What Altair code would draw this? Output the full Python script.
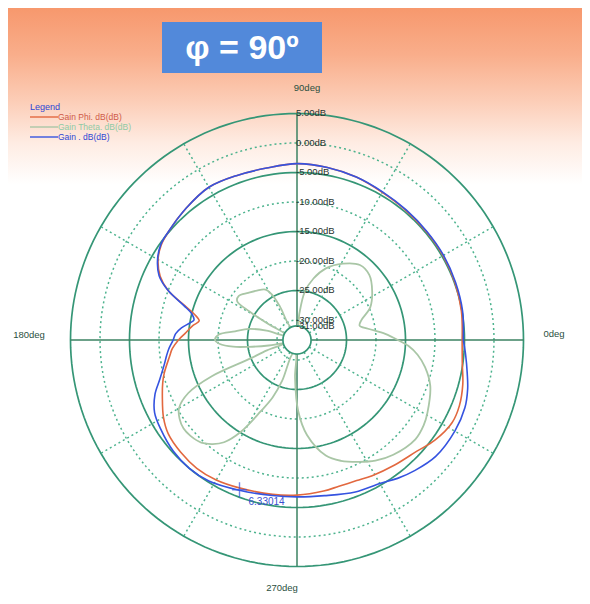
import altair as alt
import numpy as np
import pandas as pd

# ---------------- data ----------------
# Gain Phi (orange) : angle in deg, gain in dB
phi_ang = [0, 10, 20, 30, 40, 50, 60, 70, 80, 90, 100, 110, 120, 130, 140, 145, 150, 155,
           159, 163, 166, 169, 172, 176.6, 180, 184, 187.4, 194, 197.7, 203, 210, 216, 224,
           232, 240, 249, 261, 270, 280, 286, 293, 299, 308, 317, 324, 332, 338, 345, 352, 360]
phi_db = [-5.4, -5.1, -4.9, -4.8, -4.8, -4.7, -4.5, -4.0, -3.7, -3.5, -3.8, -3.7, -3.5, -4.2,
          -4.9, -5.3, -6.2, -7.8, -10.0, -13.5, -15.5, -16.5, -15.6, -14.4, -13.3, -12.2,
          -11.6, -10.2, -9.5, -8.6, -7.25, -6.4, -6.0, -5.8, -6.0, -6.5, -6.9, -7.1, -7.4,
          -7.6, -7.5, -7.1, -6.5, -5.7, -4.5, -3.6, -3.7, -4.3, -5.1, -5.4]

# Gain Theta (grey-green)
theta_ang = [0, 4, 9, 13, 17, 24, 33, 42, 50, 59, 68, 75, 81, 85, 88, 115, 117, 119, 122, 129,
             136, 143, 147, 149, 151, 153, 160, 163, 167, 172, 176, 180, 183, 186, 188, 191,
             194, 196, 199, 201.7, 203, 206, 210, 214, 218, 222, 227, 231, 234.5, 238.5, 243,
             247, 250, 253, 265, 267, 271, 276, 284, 290, 297, 303, 310, 320, 326, 331, 341,
             348, 353, 357, 360]
theta_db = [-16.3, -18.4, -21.2, -22.5, -22.0, -19.8, -18.2, -16.9, -16.8, -18.3, -20.3, -22.6,
            -25.2, -29.0, -31, -31, -27.0, -24.5, -23.3, -22.6, -21.9, -21.0, -21.3, -24.0,
            -28.0, -31, -31, -28.0, -25.0, -22.8, -20.1, -19.5, -20.3, -22.5, -25.1, -28.5,
            -31, -31, -28.0, -24.6, -17.7, -12.9, -10.3, -9.4, -9.0, -9.1, -9.6, -10.7, -12.1,
            -15.1, -19.8, -22.8, -26.0, -31, -31, -27.0, -21.3, -17.2, -13.2, -11.6, -10.2,
            -9.0, -8.0, -7.2, -7.5, -8.1, -9.5, -11.2, -12.8, -14.5, -16.3]

# Gain total (blue)
tot_ang = [0, 10, 20, 30, 40, 50, 60, 70, 80, 90, 100, 110, 120, 130, 140, 145, 150, 155, 159,
           163, 166, 169, 171, 174, 177, 180, 184, 187, 190, 196, 201, 207, 213, 222, 230, 238,
           249, 261, 270, 280, 291, 300, 306, 312, 320, 330, 338, 344, 349, 355, 360]
tot_db = [-5.2, -4.9, -4.8, -4.7, -4.7, -4.6, -4.4, -4.0, -3.7, -3.5, -3.8, -3.7, -3.5, -4.2,
          -4.9, -5.2, -6.1, -7.6, -10.0, -13.3, -15.0, -15.6, -15.0, -13.7, -12.8, -12.4,
          -11.6, -11.1, -10.6, -9.2, -7.6, -6.3, -5.8, -5.2, -5.0, -5.2, -6.1, -6.7, -6.8,
          -6.6, -5.8, -5.3, -4.4, -3.6, -2.7, -2.5, -2.7, -3.3, -4.0, -4.7, -5.2]

series_names = ["Gain Phi. dB(dB)", "Gain Theta. dB(dB)", "Gain . dB(dB)"]
series_colors = ["#e2683f", "#a9c6a6", "#3553e0"]
legend_text_colors = ["#cf5a48", "#8fcaa4", "#2f46d4"]

ring_levels = [5, 0, -5, -10, -15, -20, -25, -30]
ring_solid = [5, -5, -15, -25]
label_levels = [5, 0, -5, -10, -15, -20, -25, -30, -31]
label_texts = ["5.00dB", "0.00dB", "-5.00dB", "-10.00dB", "-15.00dB", "-20.00dB",
               "-25.00dB", "-30.00dB", "-31.00dB"]
spoke_angles = [30, 60, 120, 150, 210, 240, 300, 330]
axis_angles = [0, 90, 180, 270]

marker_ang = [249]
marker_db = [-6.2]
marker_text = "6.33014"
title_text = "φ = 90º"

DB_MIN, DB_MAX = -31, 5
HOLE = 2.39          # radius of the centre hole, in dB units
W, H = 574, 588
PX = 5.9             # pixels per dB
CX, CY = 289, 332    # centre of the polar plot inside the view

xs = alt.Scale(domain=[-CX / PX, (W - CX) / PX], nice=False, zero=False)
ys = alt.Scale(domain=[-(H - CY) / PX, CY / PX], nice=False, zero=False)

TEAL = "#359676"
TEAL_DOT = "#4db38e"
AXIS = "#3b8262"

rr_expr = f"max(datum.db, {DB_MIN}) - ({DB_MIN}) + {HOLE}"


def polar_xy(chart, rname="rr", aname="ang", xo="px", yo="py"):
    return chart.transform_calculate(
        **{xo: f"datum.{rname} * cos(datum.{aname} * PI / 180)",
           yo: f"datum.{rname} * sin(datum.{aname} * PI / 180)"})


# ---------------- background ----------------
bg = alt.Chart(pd.DataFrame({"a": [0]})).mark_rect(
    color=alt.Gradient(
        gradient="linear",
        stops=[alt.GradientStop(color="#f7986d", offset=0),
               alt.GradientStop(color="#f9ae8b", offset=0.08),
               alt.GradientStop(color="#fcceb8", offset=0.16),
               alt.GradientStop(color="#feece3", offset=0.23),
               alt.GradientStop(color="#ffffff", offset=0.30),
               alt.GradientStop(color="#ffffff", offset=1)],
        x1=0, x2=0, y1=0, y2=1)
).encode(x=alt.value(0), x2=alt.value(W), y=alt.value(0), y2=alt.value(H))

# ---------------- rings ----------------
ring_rows = []
for lv in ring_levels:
    for a in range(0, 362, 2):
        ring_rows.append({"lvl": lv, "ang": a, "db": lv,
                          "kind": "solid" if lv in ring_solid else "dot"})
ring_df = pd.DataFrame(ring_rows)

ring_base = polar_xy(alt.Chart(ring_df).transform_calculate(rr=rr_expr))
ring_enc = dict(x=alt.X("px:Q", scale=xs, axis=None),
                y=alt.Y("py:Q", scale=ys, axis=None),
                detail="lvl:N", order="ang:Q")
rings_solid = ring_base.transform_filter(alt.datum.kind == "solid").mark_line(
    color=TEAL, strokeWidth=1.7).encode(**ring_enc)
rings_dot = ring_base.transform_filter(alt.datum.kind == "dot").mark_line(
    color=TEAL_DOT, strokeWidth=1.5, strokeDash=[2, 3]).encode(**ring_enc)

# ---------------- spokes ----------------
sp_df = pd.DataFrame({"ang": spoke_angles + axis_angles,
                      "kind": ["dot"] * len(spoke_angles) + ["axis"] * len(axis_angles)})
sp_base = alt.Chart(sp_df).transform_calculate(
    r1=f"{HOLE}", r2=f"{DB_MAX - DB_MIN + HOLE}"
).transform_calculate(
    x1="datum.r1 * cos(datum.ang * PI / 180)", y1="datum.r1 * sin(datum.ang * PI / 180)",
    x2="datum.r2 * cos(datum.ang * PI / 180)", y2="datum.r2 * sin(datum.ang * PI / 180)")
sp_enc = dict(x=alt.X("x1:Q", scale=xs, axis=None), y=alt.Y("y1:Q", scale=ys, axis=None),
              x2="x2:Q", y2="y2:Q")
spokes_dot = sp_base.transform_filter(alt.datum.kind == "dot").mark_rule(
    color=TEAL_DOT, strokeWidth=1.5, strokeDash=[2, 3]).encode(**sp_enc)
spokes_axis = sp_base.transform_filter(alt.datum.kind == "axis").mark_rule(
    color=AXIS, strokeWidth=1.5).encode(**sp_enc)

# ---------------- curves ----------------
curve_df = pd.concat([
    pd.DataFrame({"series": series_names[0], "ang": phi_ang, "db": phi_db}),
    pd.DataFrame({"series": series_names[1], "ang": theta_ang, "db": theta_db}),
    pd.DataFrame({"series": series_names[2], "ang": tot_ang, "db": tot_db}),
], ignore_index=True)
curve_base = polar_xy(alt.Chart(curve_df).transform_calculate(rr=rr_expr))


def curve(i, width):
    return curve_base.transform_filter(alt.datum.series == series_names[i]).mark_line(
        color=series_colors[i], strokeWidth=width, strokeJoin="round",
        interpolate="catmull-rom").encode(
        x=alt.X("px:Q", scale=xs, axis=None), y=alt.Y("py:Q", scale=ys, axis=None),
        order="ang:Q")


c_theta = curve(1, 1.8)
c_phi = curve(0, 1.6)
c_tot = curve(2, 1.6)

# ---------------- centre hole ----------------
hole = alt.Chart(pd.DataFrame({"cx": [0], "cy": [0], "rr": [HOLE]})).mark_arc(
    theta=0, theta2=2 * np.pi, fill="white", stroke=TEAL, strokeWidth=1.7
).encode(x=alt.X("cx:Q", scale=xs, axis=None), y=alt.Y("cy:Q", scale=ys, axis=None),
         radius=alt.Radius("rr:Q", scale=alt.Scale(type="linear", domain=[0, 10],
                                                   range=[0, 10 * PX])))

# ---------------- ring labels ----------------
lab_df = pd.DataFrame({"db": label_levels, "txt": label_texts})
ring_lab = alt.Chart(lab_df).transform_calculate(rr=rr_expr, px="0").mark_text(
    align="left", baseline="middle", dx=-1, fontSize=9.5, font="Liberation Sans",
    color="#27332e"
).encode(x=alt.X("px:Q", scale=xs, axis=None), y=alt.Y("rr:Q", scale=ys, axis=None),
         text="txt:N")

# ---------------- angle labels ----------------
ang_df = pd.DataFrame({"txt": ["0deg", "90deg", "180deg", "270deg"],
                       "vx": [546, 299, 21, 274], "vy": [326, 80, 327, 580]})
ang_lab = alt.Chart(ang_df).mark_text(
    align="center", baseline="middle", fontSize=9.5, font="Liberation Sans", color="#2a5040"
).encode(x=alt.X("vx:Q", scale=None), y=alt.Y("vy:Q", scale=None), text="txt:N")

# ---------------- marker ----------------
mk_df = pd.DataFrame({"ang": marker_ang, "db": marker_db})
marker = polar_xy(alt.Chart(mk_df).transform_calculate(rr=rr_expr)).mark_point(
    shape="M-1,0L1,0M0,-1L0,1", size=220, stroke="#3553e0", strokeWidth=1.4, filled=False
).encode(x=alt.X("px:Q", scale=xs, axis=None), y=alt.Y("py:Q", scale=ys, axis=None))
marker_lab = polar_xy(alt.Chart(mk_df).transform_calculate(rr=rr_expr)).mark_text(
    text=marker_text, align="left", baseline="middle", dx=9, dy=12, fontSize=10,
    font="Liberation Sans", color="#3a4fd0"
).encode(x=alt.X("px:Q", scale=xs, axis=None), y=alt.Y("py:Q", scale=ys, axis=None))

# ---------------- legend ----------------
leg_df = pd.DataFrame({"name": series_names, "vy": [109, 119, 129],
                       "lc": series_colors, "tc": legend_text_colors})
leg_lines = alt.Chart(leg_df).mark_rule(strokeWidth=1.4).encode(
    x=alt.value(22), x2=alt.value(50), y=alt.Y("vy:Q", scale=None),
    color=alt.Color("lc:N", scale=None))
leg_text = alt.Chart(leg_df).mark_text(
    align="left", baseline="middle", dx=0, fontSize=8.5, font="Liberation Sans"
).encode(x=alt.value(50), y=alt.Y("vy:Q", scale=None), text="name:N",
         color=alt.Color("tc:N", scale=None))
leg_title = alt.Chart(pd.DataFrame({"t": ["Legend"]})).mark_text(
    align="left", baseline="middle", fontSize=9, font="Liberation Sans", color="#2f46d4"
).encode(x=alt.value(22), y=alt.value(99), text="t:N")

# ---------------- title box ----------------
tbox = alt.Chart(pd.DataFrame({"a": [0]})).mark_rect(color="#5289da").encode(
    x=alt.value(154), x2=alt.value(314), y=alt.value(14), y2=alt.value(65))
ttext = alt.Chart(pd.DataFrame({"t": [title_text]})).mark_text(
    align="center", baseline="middle", fontSize=34, fontWeight="bold",
    font="Liberation Sans", color="white"
).encode(x=alt.value(234), y=alt.value(41), text="t:N")

chart = alt.layer(
    bg, rings_dot, rings_solid, spokes_dot, spokes_axis,
    c_theta, c_phi, c_tot, hole, ring_lab, ang_lab, marker, marker_lab,
    leg_lines, leg_text, leg_title, tbox, ttext
).properties(width=W, height=H, padding=0, autosize="none").configure_view(strokeWidth=0)

chart.save("out.html", embed_options={"renderer": "svg", "actions": False})
